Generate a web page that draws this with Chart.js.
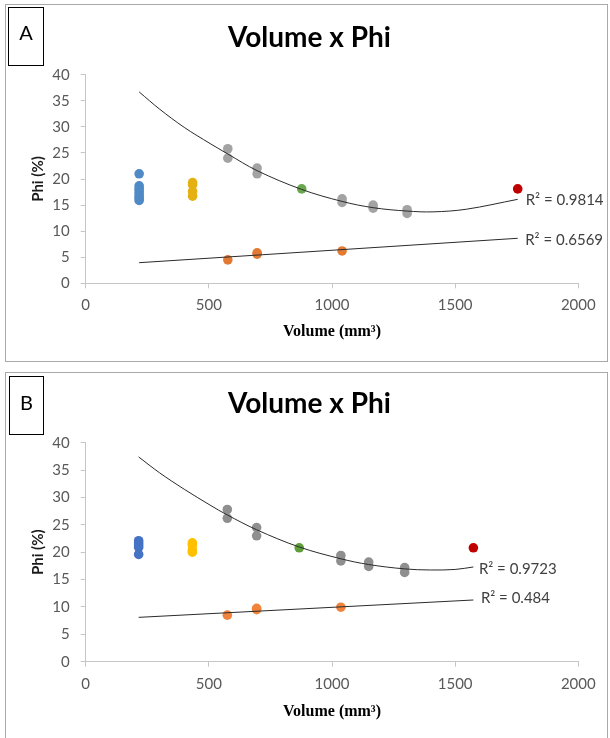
<!DOCTYPE html>
<html><head><meta charset="utf-8">
<script src="https://cdn.jsdelivr.net/npm/chart.js@4.4.1/dist/chart.umd.min.js"></script>
<style>
html,body{margin:0;padding:0;background:#fff;width:610px;height:738px;overflow:hidden}
canvas{position:absolute;left:0}
#cA{top:0}
#cB{top:368px}
</style></head><body>
<canvas id="cA" width="610" height="368"></canvas>
<canvas id="cB" width="610" height="370"></canvas>
<script>
// ---------- shared axis ticks ----------
const xTickValues = [0, 500, 1000, 1500, 2000];
const yTickValues = [0, 5, 10, 15, 20, 25, 30, 35, 40];
const chartTitle = 'Volume x Phi';
const xAxisTitle = 'Volume (mm³)';
const yAxisTitle = 'Phi (%)';

// ---------- Panel A data ----------
const aBlueX = [217, 217, 217, 217, 217, 217, 217, 217];
const aBlueY = [21.0, 18.7, 18.2, 17.7, 17.2, 16.7, 16.3, 15.9];
const aYellowX = [434, 434, 434, 434];
const aYellowY = [19.3, 18.9, 17.6, 16.7];
const aGrayX = [577, 577, 696, 696, 1041, 1041, 1167, 1167, 1305, 1305];
const aGrayY = [25.8, 24.0, 22.1, 21.0, 16.2, 15.5, 15.0, 14.4, 14.1, 13.4];
const aGreenX = [877];
const aGreenY = [18.1];
const aRedX = [1754];
const aRedY = [18.1];
const aOrangeX = [577, 696, 696, 1041];
const aOrangeY = [4.5, 5.6, 5.85, 6.2];
const aPolyX = [217, 300, 400, 505, 577, 696, 877, 1041, 1167, 1305, 1410, 1545, 1754];
const aPolyY = [36.7, 33.4, 29.9, 26.8, 24.8, 21.6, 18.0, 15.7, 14.5, 13.85, 13.7, 14.2, 16.1];
const aLinX = [217, 1754];
const aLinY = [3.95, 8.63];
const aR2Text = ['R² = 0.9814', 'R² = 0.6569'];

// ---------- Panel B data ----------
const bBlueX = [215, 215, 215, 215, 215];
const bBlueY = [22.1, 21.7, 21.3, 20.9, 19.6];
const bYellowX = [433, 433, 433, 433];
const bYellowY = [21.7, 21.3, 20.4, 20.0];
const bGrayX = [575, 575, 694, 694, 1036, 1036, 1149, 1149, 1295, 1295];
const bGrayY = [27.8, 26.2, 24.5, 23.0, 19.4, 18.4, 18.2, 17.4, 17.2, 16.3];
const bGreenX = [867];
const bGreenY = [20.8];
const bRedX = [1574];
const bRedY = [20.8];
const bOrangeX = [575, 694, 694, 1036];
const bOrangeY = [8.5, 9.5, 9.75, 9.95];
const bPolyX = [215, 300, 400, 505, 575, 694, 867, 1036, 1149, 1295, 1400, 1500, 1574];
const bPolyY = [37.4, 34.5, 31.5, 28.6, 26.8, 24.1, 20.95, 18.8, 17.75, 16.95, 16.75, 16.85, 17.3];
const bLinX = [215, 1574];
const bLinY = [8.1, 11.27];
const bR2Text = ['R² = 0.9723', 'R² = 0.484'];

const pts = (xs, ys) => xs.map((x, i) => ({x: x, y: ys[i]}));

const decor = {
  id: 'decor',
  afterDraw(chart, args, o) {
    const ctx = chart.ctx;
    ctx.save();
    ctx.lineWidth = 1;
    ctx.strokeStyle = '#a9a9a9';
    ctx.strokeRect(o.border[0], o.border[1], o.border[2], o.border[3]);
    ctx.strokeStyle = '#000';
    ctx.strokeRect(o.box[0], o.box[1], o.box[2], o.box[3]);
    ctx.fillStyle = '#000';
    ctx.textAlign = 'center';
    ctx.textBaseline = 'alphabetic';
    ctx.font = '20px Lato';
    ctx.fillText(o.letter, o.letterPos[0], o.letterPos[1]);
    ctx.font = 'bold 28px Lato';
    ctx.fillText(o.title, o.titlePos[0], o.titlePos[1]);
    const xs = chart.scales.x, ys = chart.scales.y;
    ctx.font = '15px Lato';
    ctx.fillStyle = '#404040';
    ctx.textAlign = 'left';
    ctx.textBaseline = 'middle';
    o.r2.forEach(r => {
      ctx.fillText(r.text, xs.getPixelForValue(r.x) + r.dx, ys.getPixelForValue(r.y) + r.dy);
    });
    ctx.restore();
  }
};

function scatterSet(data, color) {
  return {data: data, backgroundColor: color, borderWidth: 0, pointRadius: 4.8, pointHoverRadius: 4.8, order: 2};
}
function trendSet(data, tension) {
  return {data: data, showLine: true, pointRadius: 0, borderColor: '#2a2a2a', borderWidth: 1, tension: tension, fill: false, order: 0};
}

function makeChart(id, p) {
  const axisColor = '#c6c6c6';
  return new Chart(document.getElementById(id), {
    type: 'scatter',
    data: {
      datasets: [
        trendSet(pts(p.polyX, p.polyY), 0.35),
        trendSet(pts(p.linX, p.linY), 0),
        scatterSet(pts(p.blueX, p.blueY), p.colors.blue),
        scatterSet(pts(p.yellowX, p.yellowY), p.colors.yellow),
        scatterSet(pts(p.grayX, p.grayY), p.colors.gray),
        scatterSet(pts(p.greenX, p.greenY), p.colors.green),
        scatterSet(pts(p.redX, p.redY), p.colors.red),
        scatterSet(pts(p.orangeX, p.orangeY), p.colors.orange)
      ]
    },
    options: {
      responsive: false,
      animation: false,
      events: [],
      layout: {padding: {left: 0, right: 31.7, top: 74.7, bottom: 0}},
      plugins: {
        legend: {display: false},
        tooltip: {enabled: false},
        decor: p.decor
      },
      scales: {
        x: {
          type: 'linear', min: 0, max: 2000,
          afterBuildTicks: s => { s.ticks = xTickValues.map(v => ({value: v})); },
          ticks: {color: '#595959', font: {family: 'Lato', size: 15}, padding: p.xTickPad, maxRotation: 0, autoSkip: false, callback: v => String(v)},
          grid: {display: true, drawOnChartArea: false, drawTicks: true, tickLength: 5, color: axisColor, tickColor: axisColor},
          border: {display: true, color: axisColor, width: 1},
          title: {display: true, text: xAxisTitle, color: '#000', font: {family: 'Liberation Serif', size: 16, weight: 'bold'}, padding: {top: 0, bottom: p.xTitlePad}},
          afterFit: s => { s.height = p.xAxisH; }
        },
        y: {
          type: 'linear', min: 0, max: 40,
          afterBuildTicks: s => { s.ticks = yTickValues.map(v => ({value: v})); },
          ticks: {color: '#595959', font: {family: 'Lato', size: 15}, padding: 11, callback: v => String(v)},
          grid: {display: true, drawOnChartArea: false, drawTicks: true, tickLength: 5, color: axisColor, tickColor: axisColor},
          border: {display: true, color: axisColor, width: 1},
          title: {display: true, text: yAxisTitle, color: '#1a1a1a', font: {family: 'Lato', size: 15, weight: 'bold'}, padding: {top: 29.5, bottom: 0}},
          afterFit: s => { s.width = 85.7; }
        }
      }
    },
    plugins: [decor]
  });
}

makeChart('cA', {
  blueX: aBlueX, blueY: aBlueY, yellowX: aYellowX, yellowY: aYellowY,
  grayX: aGrayX, grayY: aGrayY, greenX: aGreenX, greenY: aGreenY,
  redX: aRedX, redY: aRedY, orangeX: aOrangeX, orangeY: aOrangeY,
  polyX: aPolyX, polyY: aPolyY, linX: aLinX, linY: aLinY,
  colors: {blue: '#4f8ac6', yellow: '#e4b012', gray: '#a3a3a3', green: '#6aa84f', red: '#c00000', orange: '#e37a34'},
  xAxisH: 84.7, xTitlePad: 26.7, xTickPad: 8,
  decor: {
    border: [5.5, 4.5, 602, 357], box: [8.5, 7.5, 35, 58], letter: 'A', letterPos: [26, 40],
    title: chartTitle, titlePos: [309.5, 46.7],
    r2: [
      {text: aR2Text[0], x: aPolyX[aPolyX.length - 1], y: aPolyY[aPolyY.length - 1], dx: 8, dy: 1},
      {text: aR2Text[1], x: aLinX[1], y: aLinY[1], dx: 7.5, dy: 2}
    ]
  }
});

makeChart('cB', {
  blueX: bBlueX, blueY: bBlueY, yellowX: bYellowX, yellowY: bYellowY,
  grayX: bGrayX, grayY: bGrayY, greenX: bGreenX, greenY: bGreenY,
  redX: bRedX, redY: bRedY, orangeX: bOrangeX, orangeY: bOrangeY,
  polyX: bPolyX, polyY: bPolyY, linX: bLinX, linY: bLinY,
  colors: {blue: '#4472c4', yellow: '#ffc000', gray: '#8f8f8f', green: '#5e9f3c', red: '#c00000', orange: '#f0843c'},
  xAxisH: 76.3, xTitlePad: 16.4, xTickPad: 8.5,
  decor: {
    border: [5.5, 4.5, 602, 400], box: [9.5, 8.5, 34, 58], letter: 'B', letterPos: [26.5, 42],
    title: chartTitle, titlePos: [309.5, 45],
    r2: [
      {text: bR2Text[0], x: bPolyX[bPolyX.length - 1], y: bPolyY[bPolyY.length - 1], dx: 5.5, dy: 2.5},
      {text: bR2Text[1], x: bLinX[1], y: bLinY[1], dx: 7.5, dy: -2.3}
    ]
  }
});
</script>
</body></html>
